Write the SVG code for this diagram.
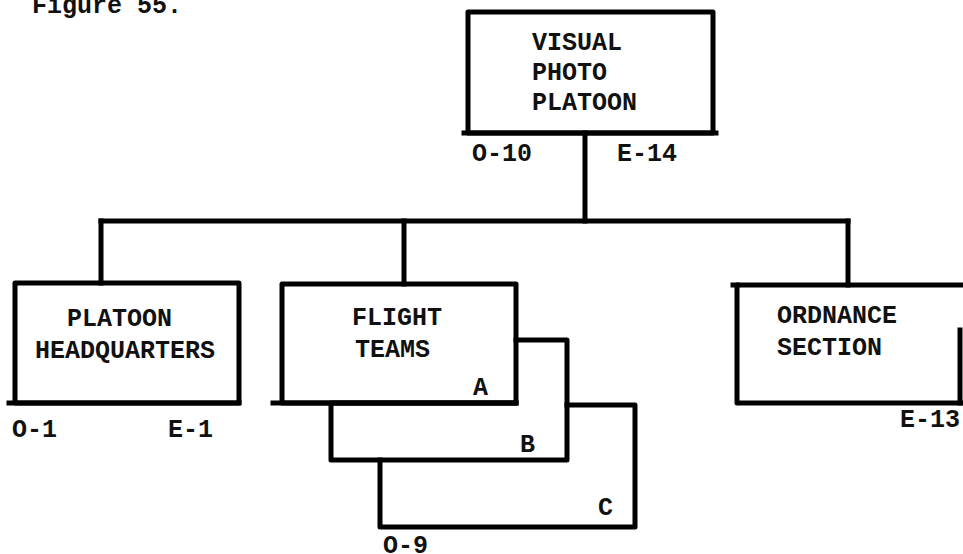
<svg xmlns="http://www.w3.org/2000/svg" width="963" height="554" viewBox="0 0 963 554">
<style>
.box{fill:none;stroke:#000;stroke-width:5;stroke-linejoin:round;stroke-linecap:square}
.ln{fill:none;stroke:#000;stroke-width:5;stroke-linecap:square}
text{font-family:"Liberation Mono","DejaVu Sans Mono",monospace;font-size:25px;font-weight:bold;fill:#111}
</style>
<rect width="963" height="554" fill="#fff"/>
<text x="32" y="13">Figure 55.</text>
<g id="connectors">
<line class="ln" x1="585" y1="133" x2="585" y2="221"/>
<line class="ln" x1="101" y1="221" x2="848" y2="221"/>
<line class="ln" x1="101" y1="221" x2="101" y2="283"/>
<line class="ln" x1="404" y1="221" x2="404" y2="284"/>
<line class="ln" x1="848" y1="221" x2="848" y2="285"/>
</g>
<g id="visual-photo-platoon">
<rect class="box" x="468" y="12" width="245" height="121"/>
<line class="ln" x1="464" y1="133" x2="716" y2="133"/>
<text x="532" y="50">VISUAL</text>
<text x="532" y="80">PHOTO</text>
<text x="532" y="110">PLATOON</text>
<text x="472" y="161">O-10</text>
<text x="617" y="161">E-14</text>
</g>
<g id="platoon-headquarters">
<rect class="box" x="15" y="283" width="224" height="120"/>
<line class="ln" x1="9" y1="403" x2="239" y2="403"/>
<text x="67" y="326">PLATOON</text>
<text x="35" y="358">HEADQUARTERS</text>
<text x="12" y="437">O-1</text>
<text x="168" y="437">E-1</text>
</g>
<g id="flight-team-c">
<polyline class="box" points="380,460 380,527 635,527 635,405 567,405"/>
<text x="598" y="515">C</text>
<text x="383" y="553">O-9</text>
</g>
<g id="flight-team-b">
<polyline class="box" points="516,340 567,340 567,460 331,460 331,403 516,403"/>
<text x="520" y="452">B</text>
</g>
<g id="flight-teams">
<rect class="box" x="282" y="284" width="234" height="119"/>
<line class="ln" x1="273" y1="403" x2="516" y2="403"/>
<text x="352" y="325">FLIGHT</text>
<text x="355" y="357">TEAMS</text>
<text x="473" y="395">A</text>
</g>
<g id="ordnance-section">
<polyline class="box" points="965,285 737,285 737,403 965,403"/>
<line class="ln" x1="733" y1="285" x2="737" y2="285"/>
<line class="ln" x1="960" y1="330" x2="960" y2="403"/>
<text x="777" y="323">ORDNANCE</text>
<text x="777" y="355">SECTION</text>
<text x="900" y="427">E-13</text>
</g>
</svg>
